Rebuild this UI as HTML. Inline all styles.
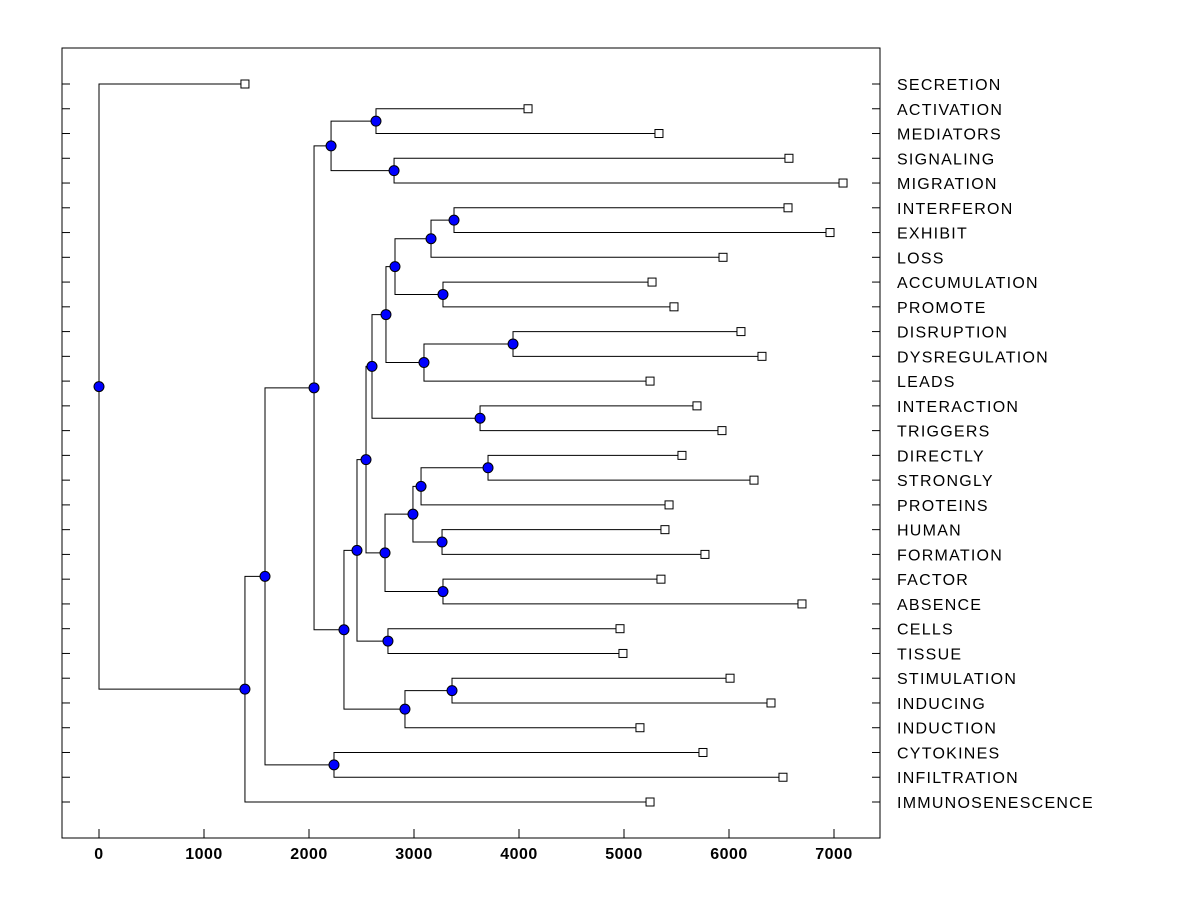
<!DOCTYPE html>
<html><head><meta charset="utf-8"><style>
html,body{margin:0;padding:0;background:#fff;}
svg{display:block;font-family:"Liberation Sans",Arial,sans-serif;}
</style></head><body>
<svg id="chart" width="1200" height="900"></svg>
<script>
const leafNames = ["SECRETION","ACTIVATION","MEDIATORS","SIGNALING","MIGRATION","INTERFERON","EXHIBIT","LOSS","ACCUMULATION","PROMOTE","DISRUPTION","DYSREGULATION","LEADS","INTERACTION","TRIGGERS","DIRECTLY","STRONGLY","PROTEINS","HUMAN","FORMATION","FACTOR","ABSENCE","CELLS","TISSUE","STIMULATION","INDUCING","INDUCTION","CYTOKINES","INFILTRATION","IMMUNOSENESCENCE"];
const leafValues = [1390,4086,5333,6571,7086,6562,6962,5943,5267,5476,6114,6314,5248,5695,5933,5552,6238,5429,5390,5771,5352,6695,4962,4990,6010,6400,5152,5752,6514,5248];
const mergeChildren = [
 ["1","2"],["3","4"],["n0","n1"],["5","6"],["n3","7"],["8","9"],["n4","n5"],["10","11"],["n7","12"],["n6","n8"],
 ["13","14"],["n9","n10"],["15","16"],["n12","17"],["18","19"],["n13","n14"],["20","21"],["n15","n16"],["n11","n17"],
 ["22","23"],["n18","n19"],["24","25"],["n21","26"],["n20","n22"],["n2","n23"],["27","28"],["n24","n25"],["n26","29"],["0","n27"]
];
const mergeHeights = [2638,2810,2210,3381,3162,3276,2819,3943,3095,2733,3629,2600,3705,3067,3267,2990,3276,2724,2543,2752,2457,3362,2914,2333,2048,2238,1581,1390,0];
const xTicks = [0,1000,2000,3000,4000,5000,6000,7000];

const svg = document.getElementById('chart');
const NS = 'http://www.w3.org/2000/svg';
const L=62,R=880,T=48,B=838;
const xs = v => 99 + v*0.105;
const ys = i => 84 + i*(802-84)/29;
function mk(tag, attrs){const e=document.createElementNS(NS,tag);for(const k in attrs)e.setAttribute(k,attrs[k]);svg.appendChild(e);return e;}

const frame = mk('rect',{x:L,y:T,width:R-L,height:B-T,fill:'none',stroke:'#000','stroke-width':1});



xTicks.forEach(t=>{
  const x=xs(t);
  const tk=mk('line',{x1:x,x2:x,y1:B,y2:B-9,stroke:'#000'});
  
  
  const tx=mk('text',{x:x,y:859,'text-anchor':'middle','font-size':16,'font-weight':'bold','letter-spacing':0.5,fill:'#000'});
  tx.textContent=t;
  
  
});

leafNames.forEach((n,i)=>{
  const y=ys(i);
  const t1=mk('line',{x1:L,x2:L+8,y1:y,y2:y,stroke:'#000'});
  
  
  const t2=mk('line',{x1:R-8,x2:R,y1:y,y2:y,stroke:'#000'});
  
  
  const tx=mk('text',{x:897,y:y+6,'font-size':16,'letter-spacing':1.25,fill:'#000'});
  tx.textContent=n;
  
  
});

const pos = {};
leafNames.forEach((n,i)=>{pos[String(i)]={x:xs(leafValues[i]),y:ys(i)};});
const dots=[];
mergeChildren.forEach((c,k)=>{
  const a=pos[c[0]], b=pos[c[1]];
  const x=xs(mergeHeights[k]);
  const y=(a.y+b.y)/2;
  pos['n'+k]={x:x,y:y};
  const p=mk('path',{d:`M${a.x},${a.y}H${x}V${b.y}H${b.x}`,fill:'none',stroke:'#000','stroke-width':1});
  
  
  dots.push([x,y]);
});
leafNames.forEach((n,i)=>{
  const q=mk('rect',{x:xs(leafValues[i])-4,y:ys(i)-4,width:8,height:8,fill:'#fff',stroke:'#000'});
  
  
});
dots.forEach(d=>{
  const c=mk('circle',{cx:d[0],cy:d[1],r:5,fill:'#0000ff',stroke:'#000','stroke-width':1});
  
  
});
</script>
</body></html>
